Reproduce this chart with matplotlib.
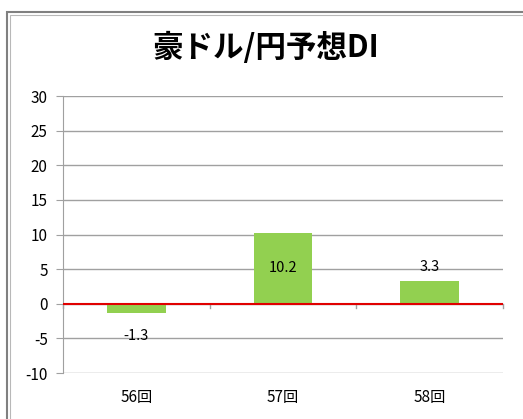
import matplotlib
matplotlib.use("Agg")
import matplotlib.pyplot as plt
from matplotlib.patches import Rectangle

plt.rcParams['font.family'] = ['Noto Sans CJK JP', 'DejaVu Sans']

categories = ['56回', '57回', '58回']
values = [-1.3, 10.2, 3.3]
labels = ['-1.3', '10.2', '3.3']
title = '豪ドル/円予想DI'
yticks = [-10, -5, 0, 5, 10, 15, 20, 25, 30]

W, H = 523, 419
fig = plt.figure(figsize=(W/100, H/100), dpi=100)

# outer chart frame (partially cropped on right and bottom)
fig.patches.append(Rectangle((7/W, -0.1), 2, 1.1 - 12/H, transform=fig.transFigure,
                             fill=False, edgecolor='#808080', linewidth=1.5))
fig.patches.append(Rectangle((10/W, -0.1), 2, 1.1 - 15/H, transform=fig.transFigure,
                             fill=False, edgecolor='#B8B8B8', linewidth=0.8))

ax = fig.add_axes([63/W, 1-373/H, (503-63)/W, (373-96)/H])
x = list(range(len(categories)))
ax.bar(x, values, width=0.4, color='#92D050', zorder=2)
ax.set_xlim(-0.5, len(categories)-0.5)
ax.set_ylim(-10, 30)
ax.set_yticks(yticks)
ax.set_yticklabels([str(t) for t in yticks], fontsize=11)
ax.yaxis.grid(True, color='#A0A0A0', linewidth=1)
ax.set_axisbelow(True)
for s in ['top', 'right', 'bottom']:
    ax.spines[s].set_visible(False)
ax.spines['left'].set_color('#A0A0A0')
ax.tick_params(axis='y', length=5, color='#A0A0A0', pad=6)
ax.set_xticks([])
ax.axhline(0, color='#E00000', linewidth=1.5, zorder=3)
# category boundary ticks
for b in [-0.5, 0.5, 1.5, 2.5]:
    ax.plot([b, b], [0, -0.6], color='#A0A0A0', linewidth=1, clip_on=False, zorder=1)

for i, c in enumerate(categories):
    ax.text(i, -13.6, c, ha='center', va='center', fontsize=11)

label_y = [values[0] - 3.4, values[1] / 2, values[2] + 2.0]
for i, lab in enumerate(labels):
    ax.text(i, label_y[i], lab, ha='center', va='center', fontsize=10.5, zorder=4)

fig.text(266/W, 1-48/H, title, ha='center', va='center', fontsize=22, fontweight='bold')

fig.savefig('out.png', dpi=100)
